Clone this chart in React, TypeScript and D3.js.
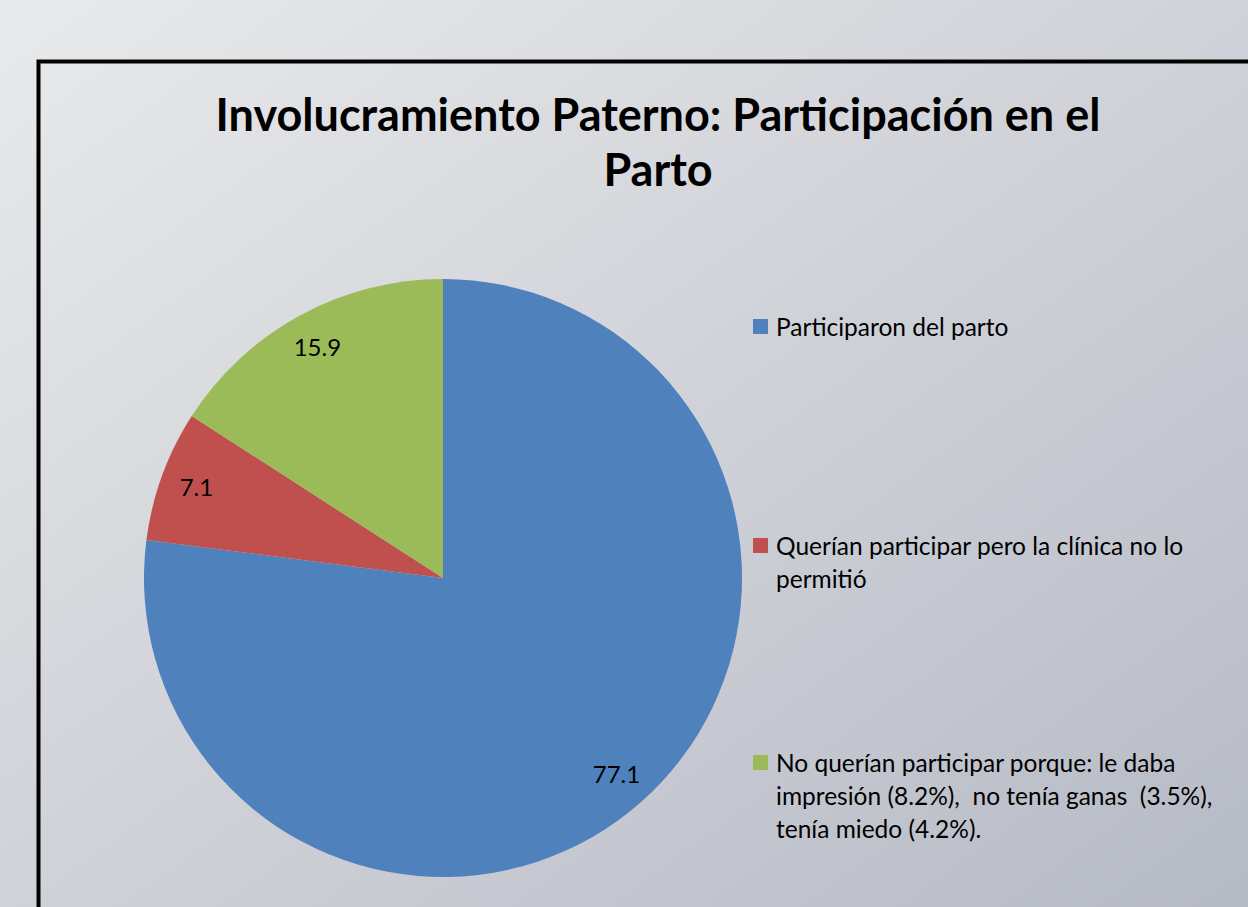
import React from "react";
import * as d3 from "d3";

const categories = [
  "Participaron del parto",
  "Querían participar pero la clínica no lo permitió",
  "No querían participar porque: le daba impresión (8.2%),  no tenía ganas  (3.5%), tenía miedo (4.2%).",
];
const values = [77.1, 7.1, 15.9];
const valueLabels = ["77.1", "7.1", "15.9"];
const colors = ["#4f81bd", "#c0504d", "#9bbb59"];
const legendLines = [
  ["Participaron del parto"],
  ["Querían participar pero la clínica no lo", "permitió"],
  ["No querían participar porque: le daba", "impresión (8.2%),  no tenía ganas  (3.5%),", "tenía miedo (4.2%)."],
];
const titleLines = ["Involucramiento Paterno: Participación en el", "Parto"];

const W = 1248;
const H = 907;
const FONT = "Lato, 'Open Sans', sans-serif";

export default function App() {
  const cx = 443;
  const cy = 578;
  const r = 299;
  const pie = d3.pie<number>().sort(null).value((d) => d);
  const arcs = pie(values);
  const arc = d3.arc<d3.PieArcDatum<number>>().innerRadius(0).outerRadius(r);
  const labelArc = d3.arc<d3.PieArcDatum<number>>().innerRadius(r * 0.878).outerRadius(r * 0.878);
  const legendY = [327, 546, 763];
  const lineH = 33;
  return (
    <svg
      width={W}
      height={H}
      style={{ position: "absolute", left: 0, top: 0, display: "block" }}
    >
      <defs>
        <linearGradient id="bg" x1="0" y1="0" x2="1" y2="1">
          <stop offset="0" stopColor="#e9eaeb" />
          <stop offset="1" stopColor="#b6bac5" />
        </linearGradient>
      </defs>
      <rect x={0} y={0} width={W} height={H} fill="url(#bg)" />
      <path
        d={`M38.5,${H + 5} L38.5,61.5 L${W + 5},61.5`}
        fill="none"
        stroke="#000"
        strokeWidth={4}
      />
      {titleLines.map((t, i) => (
        <text
          key={i}
          x={658}
          y={131 + i * 55}
          textAnchor="middle"
          fontFamily={FONT}
          fontWeight="bold"
          fontSize={45}
          fill="#000"
        >
          {t}
        </text>
      ))}
      <g transform={`translate(${cx},${cy})`}>
        {arcs.map((a, i) => (
          <path key={i} d={arc(a) || ""} fill={colors[i]} />
        ))}
        {arcs.map((a, i) => {
          const [x, y] = labelArc.centroid(a);
          return (
            <text
              key={i}
              x={x}
              y={y}
              dy="0.35em"
              textAnchor="middle"
              fontFamily={FONT}
              fontSize={24}
              fill="#000"
            >
              {valueLabels[i]}
            </text>
          );
        })}
      </g>
      {legendLines.map((lines, i) => (
        <g key={i}>
          <rect x={753} y={legendY[i] - 8} width={15} height={15} fill={colors[i]}>
            <title>{categories[i]}</title>
          </rect>
          {lines.map((l, j) => (
            <text
              key={j}
              x={776}
              y={legendY[i] + j * lineH}
              dy="0.35em"
              fontFamily={FONT}
              fontSize={24.5}
              fill="#000"
              style={{ whiteSpace: "pre" }}
            >
              {l}
            </text>
          ))}
        </g>
      ))}
    </svg>
  );
}
